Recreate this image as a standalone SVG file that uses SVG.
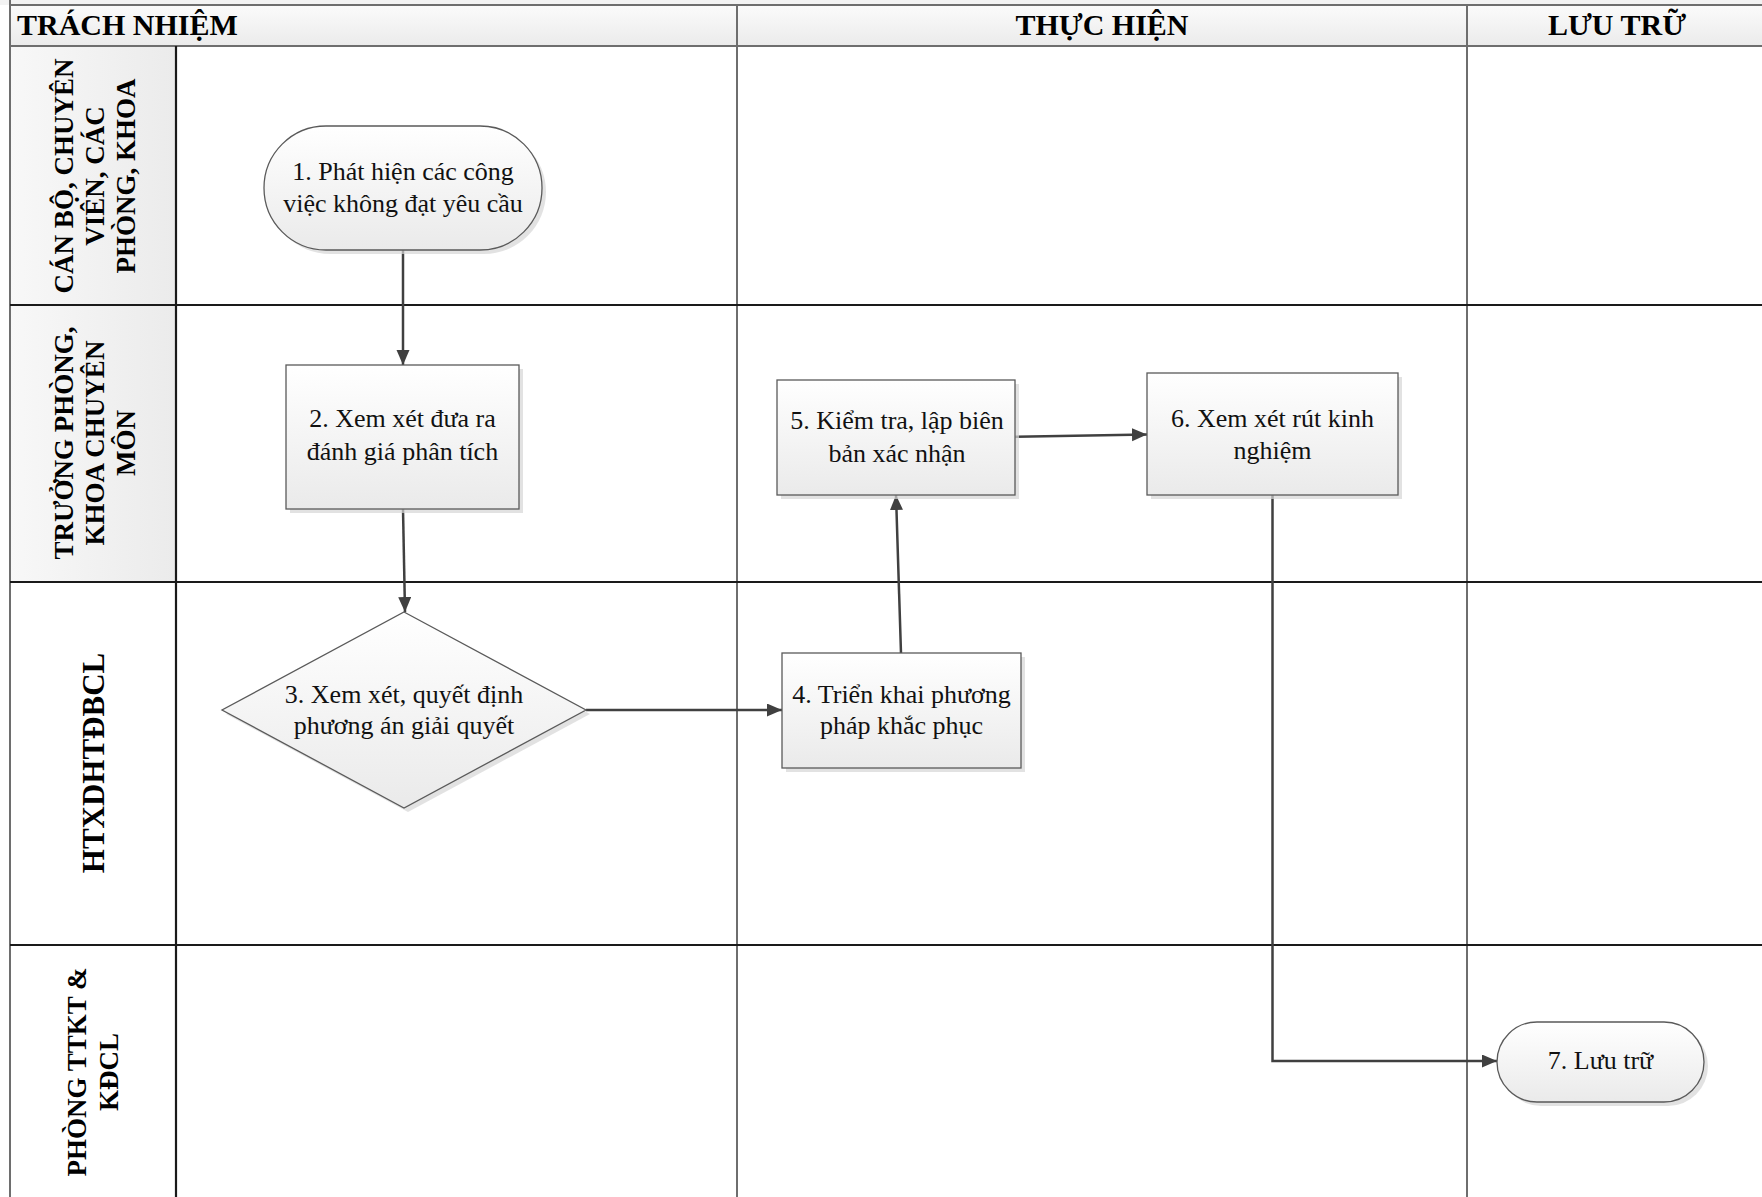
<svg xmlns="http://www.w3.org/2000/svg" width="1762" height="1197" viewBox="0 0 1762 1197">
<style>
.hdr{font-family:"Liberation Serif","Times New Roman",serif;font-weight:bold;font-size:30px;fill:#000}
.lane{font-family:"Liberation Serif","Times New Roman",serif;font-weight:bold;font-size:27px;fill:#000;text-anchor:middle}
.lbl{font-family:"Liberation Serif","Times New Roman",serif;font-size:26px;fill:#111;text-anchor:middle}
.node{fill:url(#ng);stroke:#5a5a5a;stroke-width:1.3}
.shadow{fill:#d6d6d6;opacity:0.7}
.conn{fill:none;stroke:#404040;stroke-width:2.5}
.rowline{stroke:#1a1a1a;stroke-width:2.2}
.colline{stroke:#6e6e6e;stroke-width:2}
</style>
<defs>
<linearGradient id="ng" x1="0" y1="0" x2="0" y2="1">
<stop offset="0" stop-color="#ffffff"/>
<stop offset="1" stop-color="#eaeaea"/>
</linearGradient>
<linearGradient id="hg" x1="0" y1="0" x2="0" y2="1">
<stop offset="0" stop-color="#fbfbfb"/>
<stop offset="1" stop-color="#ebebeb"/>
</linearGradient>
<linearGradient id="lg" x1="0" y1="0" x2="1" y2="0">
<stop offset="0" stop-color="#f8f8f8"/>
<stop offset="1" stop-color="#ebebeb"/>
</linearGradient>
<marker id="arr" markerUnits="userSpaceOnUse" markerWidth="16" markerHeight="14" refX="15" refY="6.5" orient="auto">
<path d="M0,0 L15,6.5 L0,13 z" fill="#404040"/>
</marker>
</defs>

<g id="table">
<rect x="0" y="0" width="1762" height="5" fill="#f3f3f3"/>
<rect x="10" y="5" width="1760" height="41" fill="url(#hg)"/>
<rect x="10" y="46" width="166" height="536" fill="url(#lg)"/>
<line class="colline" x1="10" y1="5" x2="1762" y2="5"/>
<line class="colline" x1="10" y1="46" x2="1762" y2="46"/>
<line class="colline" x1="10" y1="0" x2="10" y2="1197"/>
<line class="rowline" x1="176" y1="46" x2="176" y2="1197"/>
<line class="colline" x1="737" y1="5" x2="737" y2="1197"/>
<line class="colline" x1="1467" y1="5" x2="1467" y2="1197"/>
<line class="rowline" x1="10" y1="305" x2="1762" y2="305"/>
<line class="rowline" x1="10" y1="582" x2="1762" y2="582"/>
<line class="rowline" x1="10" y1="945" x2="1762" y2="945"/>
<text class="hdr" x="17" y="35">TRÁCH NHIỆM</text>
<text class="hdr" x="1102" y="35" text-anchor="middle">THỰC HIỆN</text>
<text class="hdr" x="1617" y="35" text-anchor="middle">LƯU TRỮ</text>
</g>

<g id="lane1">
<text class="lane" transform="translate(104,176) rotate(-90)"><tspan x="0" y="-31">CÁN BỘ, CHUYÊN</tspan><tspan x="0" y="0">VIÊN, CÁC</tspan><tspan x="0" y="31">PHÒNG, KHOA</tspan></text>
</g>
<g id="lane2">
<text class="lane" transform="translate(104,443) rotate(-90)"><tspan x="0" y="-31">TRƯỞNG PHÒNG,</tspan><tspan x="0" y="0">KHOA CHUYÊN</tspan><tspan x="0" y="31">MÔN</tspan></text>
</g>
<g id="lane3">
<text class="lane" style="font-size:31px" transform="translate(104,763) rotate(-90)"><tspan x="0" y="0">HTXDHTĐBCL</tspan></text>
</g>
<g id="lane4">
<text class="lane" transform="translate(102,1072) rotate(-90)"><tspan x="0" y="-16">PHÒNG TTKT &amp;</tspan><tspan x="0" y="16">KĐCL</tspan></text>
</g>

<g id="connectors">
<line class="conn" x1="403" y1="250" x2="403" y2="365" marker-end="url(#arr)"/>
<line class="conn" x1="403" y1="509" x2="405" y2="612" marker-end="url(#arr)"/>
<line class="conn" x1="586" y1="710" x2="782" y2="710" marker-end="url(#arr)"/>
<line class="conn" x1="901" y1="653" x2="896" y2="495" marker-end="url(#arr)"/>
<line class="conn" x1="1008" y1="437" x2="1147" y2="434.5" marker-end="url(#arr)"/>
<polyline class="conn" points="1272.5,495 1272.5,1061 1497,1061" marker-end="url(#arr)"/>
</g>

<g id="node1">
<rect class="shadow" x="268" y="130" width="278" height="124" rx="62"/>
<rect class="node" x="264" y="126" width="278" height="124" rx="62"/>
<text class="lbl" x="403" y="180">1. Phát hiện các công</text>
<text class="lbl" x="403" y="212">việc không đạt yêu cầu</text>
</g>
<g id="node2">
<rect class="shadow" x="290" y="369" width="233" height="144"/>
<rect class="node" x="286" y="365" width="233" height="144"/>
<text class="lbl" x="402.5" y="427">2. Xem xét đưa ra</text>
<text class="lbl" x="402.5" y="460">đánh giá phân tích</text>
</g>
<g id="node3">
<polygon class="shadow" points="408,616 590,714 408,812 226,714"/>
<polygon class="node" points="404,612 586,710 404,808 222,710"/>
<text class="lbl" x="404" y="703">3. Xem xét, quyết định</text>
<text class="lbl" x="404" y="734">phương án giải quyết</text>
</g>
<g id="node4">
<rect class="shadow" x="786" y="657" width="239" height="115"/>
<rect class="node" x="782" y="653" width="239" height="115"/>
<text class="lbl" x="901.5" y="703">4. Triển khai phương</text>
<text class="lbl" x="901.5" y="734">pháp khắc phục</text>
</g>
<g id="node5">
<rect class="shadow" x="781" y="384" width="238" height="115"/>
<rect class="node" x="777" y="380" width="238" height="115"/>
<text class="lbl" x="897" y="429">5. Kiểm tra, lập biên</text>
<text class="lbl" x="897" y="462">bản xác nhận</text>
</g>
<g id="node6">
<rect class="shadow" x="1151" y="377" width="251" height="122"/>
<rect class="node" x="1147" y="373" width="251" height="122"/>
<text class="lbl" x="1272.5" y="427">6. Xem xét rút kinh</text>
<text class="lbl" x="1272.5" y="459">nghiệm</text>
</g>
<g id="node7">
<rect class="shadow" x="1501" y="1026" width="207" height="80" rx="40"/>
<rect class="node" x="1497" y="1022" width="207" height="80" rx="40"/>
<text class="lbl" x="1600.5" y="1069">7. Lưu trữ</text>
</g>
</svg>
